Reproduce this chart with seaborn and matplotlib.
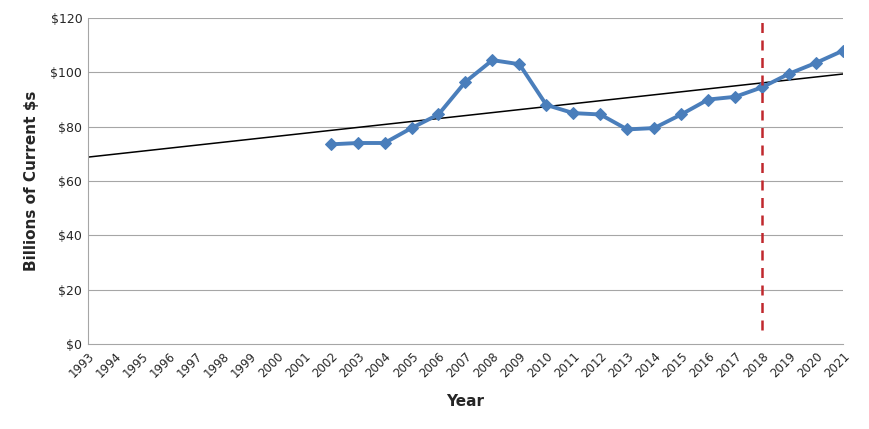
import numpy as np
import pandas as pd
import matplotlib.pyplot as plt
import seaborn as sns

years = list(range(1993, 2022))
data_years = list(range(2002, 2022))
values = [73.5, 74, 74, 79.5, 84.5, 96.5, 104.5, 103, 88, 85, 84.5, 79, 79.5,
          84.5, 90, 91, 94.5, 99.5, 103.5, 108]
trend_years = [1993, 2021]
trend_values = [68.8, 99.4]
marker_year = 2018
y_ticks = [0, 20, 40, 60, 80, 100, 120]

df = pd.DataFrame({"Year": data_years, "Value": values})

sns.set_style("white")
fig = plt.figure(figsize=(8.7, 4.29), dpi=100)
ax = fig.add_axes([0.101, 0.198, 0.868, 0.76])

for t in y_ticks[1:]:
    ax.axhline(t, color="#a6a6a6", lw=0.8, zorder=0)

ax.plot(trend_years, trend_values, color="black", lw=1.1, zorder=2)
sns.lineplot(data=df, x="Year", y="Value", ax=ax, color="#4a7ebb", lw=2.8,
             marker="D", markersize=6, markeredgecolor="#4a7ebb", zorder=3)
ax.plot([marker_year, marker_year], [5, 120], color="#c0282d", lw=1.8,
        linestyle=(0, (4, 3)), zorder=4)

ax.set_xlim(years[0], years[-1])
ax.set_ylim(0, 120)
ax.set_xticks(years)
ax.set_xticklabels([str(y) for y in years], rotation=45, ha="right",
                   rotation_mode="anchor", fontsize=8.5)
ax.set_yticks(y_ticks)
ax.set_yticklabels([f"${t}" for t in y_ticks], fontsize=9)
ax.tick_params(axis="x", length=0, pad=4)
ax.tick_params(axis="y", length=0, pad=4)
ax.set_xlabel("Year", fontsize=11, fontweight="bold", labelpad=10)
ax.set_ylabel("Billions of Current $s", fontsize=11, fontweight="bold", labelpad=8)
for s in ["top", "right"]:
    ax.spines[s].set_visible(False)
for s in ["left", "bottom"]:
    ax.spines[s].set_color("#a6a6a6")

fig.savefig("out.png", dpi=100)
